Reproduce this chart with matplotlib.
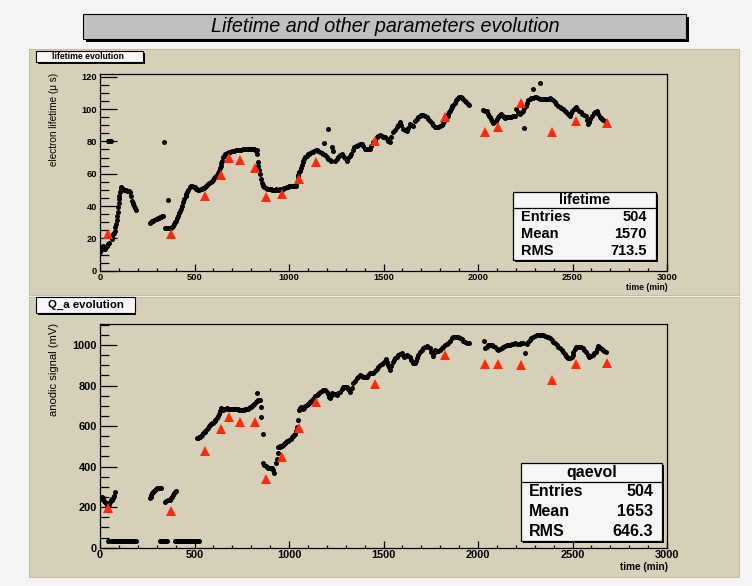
import matplotlib
matplotlib.use('Agg')
import matplotlib.pyplot as plt
from matplotlib.patches import Rectangle
from matplotlib.ticker import MultipleLocator

# ---------------- data ----------------
life_t = [0, 5, 9, 14, 18, 26, 30, 35, 40, 44, 48,
          40, 45, 50, 55, 60,
          62, 66, 70, 75, 79, 82, 85, 88, 92, 95, 97, 99, 100, 103, 106, 109, 111, 117, 123, 129, 135,
          141, 147, 153, 159, 163, 167, 172, 177, 182, 186, 190,
          264, 270, 276, 282, 288, 294, 300, 306, 312, 317, 323, 329, 335, 340, 358,
          344, 350, 355, 361, 367, 372, 378, 383, 388, 393, 398, 402, 408, 414, 420, 424, 428, 434, 441,
          447, 453, 457, 460, 468, 476, 482, 488, 495, 502, 508, 514, 520, 526, 532, 538, 544, 550, 555,
          561, 567, 573, 579, 585, 591, 597, 603, 608, 614, 620, 626, 630, 635, 638, 640, 645, 652, 658,
          664, 670, 677, 683, 690, 696, 703, 710, 717, 725, 732, 740, 747, 754, 760, 767, 774, 781, 788,
          795, 802, 809, 816, 822, 829, 832, 834, 837, 842, 846, 850, 855, 860, 865, 869, 876, 883, 890,
          897, 904, 911, 918, 925, 932, 939, 946, 953, 961, 967, 974, 980, 987, 994, 1000, 1007, 1014,
          1020, 1026, 1032, 1037, 1041, 1045, 1050, 1054, 1058, 1063, 1068, 1072, 1075, 1081, 1087, 1093,
          1100, 1107, 1113, 1120, 1127, 1134, 1141, 1148, 1156, 1164, 1172, 1181, 1187, 1204, 1190, 1199,
          1208, 1216, 1224, 1229, 1234, 1243, 1252, 1261, 1270, 1278, 1287, 1296, 1305, 1314, 1323, 1330,
          1336, 1345, 1352, 1358, 1366, 1375, 1384, 1392, 1401, 1410, 1419, 1428, 1436, 1445, 1454, 1463,
          1472, 1481, 1490, 1498, 1507, 1516, 1525, 1534, 1542, 1551, 1560, 1569, 1578, 1587, 1595, 1604,
          1613, 1622, 1630, 1639, 1648, 1657, 1666, 1675, 1684, 1692, 1701, 1710, 1719, 1728, 1737, 1745,
          1754, 1763, 1772, 1781, 1790, 1799, 1807, 1814, 1821, 1828, 1834, 1839, 1843, 1847, 1851, 1856,
          1860, 1865, 1869, 1876, 1883, 1889, 1895, 1902, 1909, 1915, 1922, 1930, 1939, 1945, 1951,
          2027, 2036, 2045, 2052, 2058, 2065, 2071, 2076, 2080, 2087, 2094, 2100, 2106, 2112, 2118, 2124,
          2130, 2136, 2142, 2150, 2159, 2168, 2177, 2185, 2194, 2203, 2212, 2218, 2224, 2231, 2238, 2241,
          2245, 2252, 2258, 2265, 2274, 2282, 2291, 2291, 2330, 2300, 2309, 2318, 2327, 2335, 2344, 2353,
          2362, 2370, 2379, 2388, 2397, 2405, 2414, 2423, 2432, 2441, 2450, 2458, 2467, 2476, 2485, 2492,
          2499, 2508, 2516, 2525, 2534, 2543, 2552, 2562, 2573, 2578, 2582, 2588, 2594, 2603, 2612, 2621,
          2630, 2637, 2644, 2651, 2658, 2664, 2670, 2676]
life_v = [11.4, 14, 14.5, 13.5, 15, 13.5, 14.5, 15.5, 16.5, 16.5, 17,
          80, 80, 80, 80, 80,
          19.6, 21, 22.7, 23.5, 24.8, 27, 28.9, 31.5, 34, 36.5, 39.2, 42, 44.4, 46.5, 48.5, 50.5, 51.6, 51, 50.6, 50.2, 49.8,
          49.5, 49.2, 49, 48.5, 46, 43.3, 42, 41, 40.2, 39, 37.6,
          29.3, 30, 30.5, 31, 31.5, 31.8, 32, 32.3, 32.7, 33, 33.2, 33.6, 34.1, 79.8, 44,
          26.4, 26.2, 26.3, 26.4, 26.5, 26.5, 26.6, 26.8, 27.8, 28.9, 30, 31, 32.5, 34, 36, 37, 38.2, 40.2, 42.3,
          44.5, 46.4, 47.5, 48.5, 50, 51.6, 52.2, 52.6, 52, 51.6, 50.8, 50.3, 50, 50.2, 50.4, 50.6, 51, 51.3, 51.6,
          52.3, 53, 53.7, 54.4, 55, 55.7, 56.4, 57.1, 57.8, 58.6, 59.4, 60.3, 61.8, 63.5, 65, 66.4, 68, 70.2, 71.2,
          72, 72.6, 73.1, 73.5, 73.7, 73.9, 74.1, 74.3, 74.5, 74.6, 74.7, 74.8, 74.9, 75, 75.1, 75.1, 75.2, 75.2, 75.3,
          75.3, 75.3, 75.2, 75, 74.9, 74.7, 72.2, 67, 65, 62, 59.8, 57, 54.1, 53, 52.2, 51.6, 51, 50.8, 50.6,
          50.4, 50.3, 50.2, 50.1, 50.1, 50.4, 50, 49.8, 50.5, 49.9, 50.4, 51, 51.2, 51.6, 51.9, 52.2, 52.4, 52.6,
          52.6, 52.7, 52.6, 52.6, 55, 57.8, 59.5, 60.8, 61.9, 63.5, 65.5, 67, 68.1, 69.3, 70.3, 71.2,
          71.9, 72.4, 72.8, 73.2, 73.7, 74.2, 74.7, 74.4, 73.8, 73.2, 72.7, 72.2, 78.8, 87.7, 71.5, 70.3,
          69.1, 68.5, 68, 76.7, 74.3, 67.7, 69, 70.6, 71.5, 72.2, 71, 69.5, 68.1, 69.8, 71.2, 72.5,
          74.5, 76.5, 77, 77.4, 77.8, 78.2, 78.4, 77, 75.3, 75, 75.2, 75.3, 77, 79.4, 81, 82.5,
          83.4, 84.2, 83.6, 83, 82.5, 81.5, 80.5, 79.4, 82.5, 85.6, 87.2, 88.7, 90.3, 91.8, 90, 87.7,
          87, 86.6, 88.5, 90.8, 90.3, 89.7, 92.8, 94, 95.3, 96, 96.5, 96.3, 95.9, 95, 93.9, 92.5,
          91.2, 90, 89.1, 88.8, 88.7, 89.5, 90.4, 91.5, 92.8, 94, 94.9, 96, 97, 98, 99, 100,
          101.1, 102, 102.7, 104, 105.6, 106.3, 106.9, 107.4, 107.7, 107, 106.2, 105.2, 104.2, 103.4, 102.7,
          99.4, 99, 98.6, 97.2, 95.9, 94.9, 93.9, 92.5, 91.2, 92, 92.8, 93.8, 94.9, 95.5, 96.2, 97,
          96, 95.2, 94.5, 95, 95.3, 95.1, 94.9, 95.4, 95.9, 100.1, 98, 97.5, 97, 98, 99, 88.3,
          100.5, 102.1, 104, 105.6, 106.3, 106.9, 107.1, 112.4, 115.9, 107.2, 107.3, 106.9, 106.5, 106.2, 106.2, 106.2,
          106.2, 106.5, 106.9, 106.3, 105.6, 104.3, 103.1, 102.1, 101.1, 100.6, 100.1, 99, 98, 97, 95.9, 97.5,
          99, 100, 101.1, 100, 99, 98, 97, 96.5, 95.9, 93.5, 90.8, 92.3, 93.9, 95.6, 97.4, 98.2,
          99, 97, 95.3, 94.6, 93.9, 93.3, 92.8, 92]

qa_t = [0, 5, 9, 13, 17, 22, 26, 32, 36, 41, 44, 48, 53, 58, 62, 66, 70, 75, 79,
        44, 60, 66, 72, 78, 84, 90, 96, 102, 108, 114, 120, 126, 132, 138, 144, 150, 156, 162, 168, 174,
        180, 186, 192,
        264, 268, 272, 277, 282, 286, 291, 296, 300, 305, 309, 315, 321,
        317, 323, 329, 335, 341, 347, 353,
        344, 351, 358, 364, 370, 376, 383, 388, 393, 398, 402,
        397, 403, 409, 415, 421, 427, 433, 439, 445, 451, 457, 463, 469, 475, 481, 487, 493, 499, 505,
        511, 517, 523,
        511, 517, 523, 529, 535, 541, 547, 553, 558, 564, 570, 576, 582, 588, 594, 600, 606, 611, 617,
        623, 629, 634, 638, 645, 652, 658, 664, 670, 677, 683, 690, 696, 703, 710, 716, 723, 730, 736,
        743, 749, 756, 763, 769, 776, 782, 788, 793, 799, 805, 811, 817, 823, 829, 832, 838, 846, 850, 853, 861,
        864, 870, 876, 883, 890, 899, 908, 915, 923, 930, 935, 940, 944, 950, 955, 961, 967, 973, 979,
        985, 990, 996, 1002, 1008, 1014, 1020, 1026, 1031, 1037, 1043, 1049, 1052, 1058, 1063, 1069, 1075,
        1081, 1087, 1093, 1099, 1105, 1111, 1117, 1122, 1128, 1134, 1140, 1146, 1152, 1158, 1164, 1172,
        1181, 1190, 1199, 1205, 1211, 1217, 1223, 1229, 1236, 1244, 1252, 1261, 1270, 1278, 1287, 1296,
        1305, 1314, 1323, 1331, 1340, 1349, 1358, 1366, 1375, 1384, 1393, 1402, 1411, 1420, 1428, 1437,
        1446, 1455, 1463, 1472, 1481, 1490, 1499, 1506, 1513, 1519, 1525, 1530, 1534, 1541, 1548, 1554,
        1560, 1569, 1578, 1587, 1596, 1602, 1608, 1615, 1622, 1631, 1640, 1647, 1654, 1660, 1666, 1670,
        1675, 1684, 1693, 1702, 1710, 1719, 1728, 1737, 1746, 1752, 1760, 1766, 1772, 1781, 1790, 1799,
        1807, 1816, 1825, 1834, 1843, 1851, 1860, 1869, 1878, 1886, 1895, 1904, 1913, 1922, 1931, 1941, 1952,
        2033, 2036, 2045, 2054, 2063, 2072, 2080, 2089, 2098, 2107, 2116, 2125, 2133, 2142, 2151, 2160,
        2169, 2178, 2186, 2195, 2204, 2213, 2221, 2230, 2240, 2251, 2257, 2266, 2275, 2283, 2292, 2301,
        2310, 2318, 2327, 2336, 2345, 2354, 2363, 2371, 2380, 2389, 2398, 2407, 2416, 2424, 2433, 2442,
        2451, 2458, 2465, 2471, 2477, 2486, 2495, 2500, 2504, 2511, 2518, 2526, 2535, 2544, 2553, 2562,
        2571, 2580, 2589, 2597, 2606, 2615, 2624, 2630, 2636, 2642, 2648, 2655, 2662, 2669, 2676]
qa_v = [252, 245, 252, 240, 243, 232, 227, 219, 205, 186, 200, 211, 225, 235, 235, 240, 243, 255, 276,
        35, 35, 35, 35, 35, 35, 35, 35, 35, 35, 35, 35, 35, 35, 35, 35, 35, 35, 35, 35, 35,
        35, 35, 35,
        243, 252, 262, 268, 275, 280, 285, 290, 294, 296, 296, 296, 296,
        35, 35, 35, 35, 35, 35, 35,
        227, 231, 235, 235, 235, 243, 252, 262, 271, 276, 281,
        35, 35, 35, 35, 35, 35, 35, 35, 35, 35, 35, 35, 35, 35, 35, 35, 35, 35, 35,
        35, 35, 35,
        540, 542, 545, 548, 553, 558, 564, 571, 578, 584, 591, 598, 605, 609, 613, 617, 624, 631, 638,
        648, 658, 672, 687, 683, 679, 682, 685, 687, 686, 685, 684, 684, 683, 683, 683, 683, 682, 681,
        680, 679, 680, 681, 682, 683, 686, 689, 692, 696, 700, 704, 711, 718, 725, 765, 730, 729, 694, 645, 562,
        416, 410, 403, 397, 391, 391, 391, 385, 370, 420, 440, 465, 495, 498, 500, 502, 506, 510, 515,
        519, 524, 528, 533, 538, 544, 550, 555, 561, 575, 597, 630, 679, 690, 696, 690, 683,
        690, 697, 704, 710, 715, 720, 724, 728, 732, 739, 746, 753, 759, 765, 770, 774,
        778, 776, 770, 760, 745, 737, 750, 762, 760, 757, 753, 762, 770, 782, 794, 794,
        794, 782, 770, 790, 811, 824, 836, 844, 852, 848, 844, 844, 844, 852, 860, 862,
        863, 871, 880, 890, 901, 907, 913, 921, 929, 915, 901, 889, 877, 898, 918, 926,
        934, 943, 951, 955, 959, 950, 942, 946, 951, 946, 942, 928, 913, 911, 910, 922,
        934, 950, 967, 976, 984, 990, 995, 990, 984, 965, 946, 960, 975, 972, 970, 977,
        984, 992, 1000, 1006, 1011, 1022, 1033, 1037, 1041, 1040, 1038, 1033, 1028, 1022, 1016, 1012, 1008,
        1020, 984, 992, 1000, 1000, 1000, 994, 988, 981, 975, 981, 987, 991, 995, 998, 1000,
        1002, 1003, 1005, 1008, 1005, 1003, 1007, 1011, 1008, 959, 1005, 1015, 1025, 1033, 1041, 1045,
        1049, 1050, 1050, 1049, 1047, 1044, 1041, 1037, 1033, 1025, 1016, 1008, 1000, 992, 984, 975,
        967, 956, 946, 940, 934, 936, 939, 953, 967, 978, 988, 990, 992, 990, 987, 977,
        967, 953, 939, 945, 951, 959, 967, 981, 995, 990, 984, 980, 975, 971, 967]

tri_t = [44, 376, 553, 641, 682, 743, 820, 877, 964, 1053, 1144, 1455, 1826, 2036, 2107, 2225, 2394, 2517, 2683]
tri_life = [22.5, 23, 46.4, 59.4, 69.5, 68.5, 63.6, 45.8, 47.5, 56.7, 67.5, 80, 95.3, 85.5, 88.7, 103.6, 85.6, 92.8, 91.2]
tri_qa = [194, 183, 479, 584, 646, 622, 622, 337, 449, 589, 717, 806, 951, 905, 905, 901, 827, 905, 910]

life_stats = [("Entries", "504"), ("Mean", "1570"), ("RMS", "713.5")]
qa_stats = [("Entries", "504"), ("Mean", "1653"), ("RMS", "646.3")]

# ---------------- layout ----------------
W, H = 752, 586
plt.rcParams['font.family'] = ['Liberation Sans', 'DejaVu Sans']
TAN = '#d6d0b9'
fig = plt.figure(figsize=(W / 100, H / 100), dpi=100)
fig.patch.set_facecolor('#f4f4f4')


def fx(x):
    return x / W


def fy(y):
    return 1 - y / H


def box(x0, y0, x1, y1, fc, ec='black', lw=0.8, shadow=0, z=1.0):
    if shadow:
        fig.patches.append(Rectangle((fx(x0 + shadow), fy(y1 + shadow)), (x1 - x0) / W, (y1 - y0) / H,
                                     transform=fig.transFigure, fc='black', ec='none', zorder=z))
    fig.patches.append(Rectangle((fx(x0), fy(y1)), (x1 - x0) / W, (y1 - y0) / H,
                                 transform=fig.transFigure, fc=fc, ec=ec, lw=lw, zorder=z + 0.1))


# pads
box(29, 49, 739, 294.5, TAN, ec='#c4bea7', lw=0.8, z=-3)
box(29, 296.5, 739, 577, TAN, ec='#c4bea7', lw=0.8, z=-3)

# main title
box(83, 14, 686, 39, '#c0c0c0', lw=0.8, shadow=3, z=1)
fig.text(fx(385), fy(27), 'Lifetime and other parameters evolution', ha='center', va='center',
         fontsize=14.2, style='italic', zorder=3)

# pad titles
box(36, 51, 143, 62, '#f6f6f6', lw=0.8, shadow=1.5, z=1)
fig.text(fx(88), fy(56.8), 'lifetime evolution', ha='center', va='center', fontsize=6.2,
         fontweight='bold', zorder=3)
box(36, 297, 135, 313, '#f6f6f6', lw=0.8, shadow=1.5, z=1)
fig.text(fx(85.5), fy(305.3), 'Q_a evolution', ha='center', va='center', fontsize=8.2,
         fontweight='bold', zorder=3)


def make_axes(rect_px, ylim, ymaj, ymin, fs):
    x0, y0, x1, y1 = rect_px
    ax = fig.add_axes([fx(x0), fy(y1), (x1 - x0) / W, (y1 - y0) / H])
    ax.set_facecolor(TAN)
    ax.set_xlim(0, 3000)
    ax.set_ylim(0, ylim)
    for s in ax.spines.values():
        s.set_linewidth(0.9)
        s.set_color('black')
    ax.xaxis.set_major_locator(MultipleLocator(500))
    ax.xaxis.set_minor_locator(MultipleLocator(100))
    ax.yaxis.set_major_locator(MultipleLocator(ymaj))
    ax.yaxis.set_minor_locator(MultipleLocator(ymin))
    ax.tick_params(axis='y', which='major', direction='in', length=12.2, width=0.9, pad=2,
                   labelsize=fs)
    ax.tick_params(axis='y', which='minor', direction='in', length=6.2, width=0.9)
    ax.tick_params(axis='x', which='major', direction='in', length=5, width=0.9, pad=2,
                   labelsize=fs)
    ax.tick_params(axis='x', which='minor', direction='in', length=2.5, width=0.9)
    for lab in ax.get_xticklabels() + ax.get_yticklabels():
        lab.set_fontweight('bold')
    return ax


ax1 = make_axes((100, 74.3, 667, 270.7), 121.5, 20, 5, 6.7)
ax1.plot(life_t, life_v, 'o', color='black', ms=3.6, mew=0, zorder=3)
ax1.plot(tri_t, tri_life, '^', color='#ff2a0a', ms=7.2, mew=0, zorder=4)

ax2 = make_axes((100, 323.7, 667, 547.7), 1105, 200, 50, 7.9)
ax2.plot(qa_t, qa_v, 'o', color='black', ms=3.6, mew=0, zorder=3)
ax2.plot(tri_t, tri_qa, '^', color='#ff2a0a', ms=7.2, mew=0, zorder=4)

# axis titles
fig.text(fx(54), fy(73), 'electron lifetime (\u03bc s)', rotation=90, ha='center', va='top',
         fontsize=7.2)
fig.text(fx(54), fy(323), 'anodic signal (mV)', rotation=90, ha='center', va='top', fontsize=8.1)
fig.text(fx(668), fy(287), 'time (min)', ha='right', va='center', fontsize=6.2, fontweight='bold')
fig.text(fx(668), fy(567), 'time (min)', ha='right', va='center', fontsize=7.2, fontweight='bold')


def stats(x0, y0, x1, y1, ydiv, title, rows, fs, ty, rys):
    box(x0, y0, x1, y1, '#f6f6f6', lw=0.9, shadow=2, z=2)
    fig.add_artist(plt.Line2D([fx(x0), fx(x1)], [fy(ydiv), fy(ydiv)], transform=fig.transFigure,
                              color='black', lw=0.9, zorder=3))
    fig.text(fx((x0 + x1) / 2), fy(ty), title, ha='center', va='center', fontsize=fs,
             fontweight='bold', zorder=4)
    for (k, v), yy in zip(rows, rys):
        fig.text(fx(x0 + 8), fy(yy), k, ha='left', va='center', fontsize=fs, fontweight='bold', zorder=4)
        fig.text(fx(x1 - 9), fy(yy), v, ha='right', va='center', fontsize=fs, fontweight='bold', zorder=4)


stats(513, 192, 656, 260, 208, 'lifetime', life_stats, 10.5, 200, [217, 234, 251])
stats(521, 463, 662, 541, 482, 'qaevol', qa_stats, 11.5, 473, [492, 512, 532])

fig.savefig('out.png', dpi=100, facecolor=fig.get_facecolor())
